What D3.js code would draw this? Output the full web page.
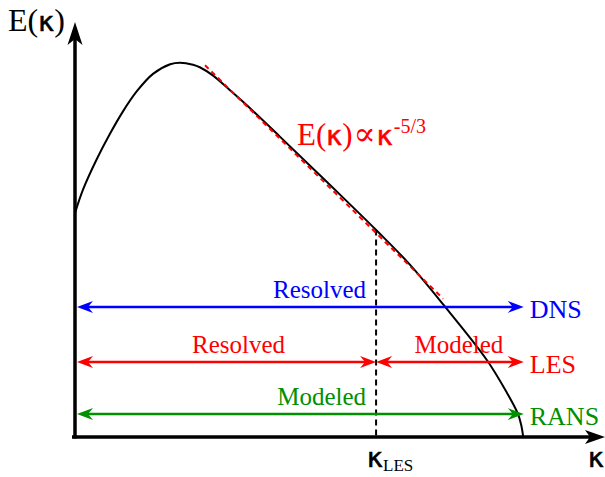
<!DOCTYPE html>
<html>
<head>
<meta charset="utf-8">
<script src="https://cdn.jsdelivr.net/npm/d3@7"></script>
<style>
  html, body { margin: 0; padding: 0; background: #fff; }
  svg { display: block; }
</style>
</head>
<body>
<svg id="chart" width="605" height="477"></svg>
<script>
// Energy spectrum E(κ), sampled along its shape (arbitrary units)
const kappa  = [0, 0.15, 0.42, 0.67, 0.92, 1.19, 1.50, 1.83, 2.02, 2.27, 2.40, 2.65, 2.98, 3.31, 3.94, 4.58, 5.23, 5.81, 6.44, 7.08, 7.92, 8.31, 8.52, 8.58, 8.62];
const energy = [4.39, 4.84, 5.45, 5.94, 6.38, 6.78, 7.12, 7.31, 7.34, 7.30, 7.25, 7.09, 6.80, 6.50, 5.89, 5.26, 4.62, 4.04, 3.38, 2.60, 1.51, 0.86, 0.45, 0.24, 0];

// Inertial-range guide, E ∝ κ^(-5/3)
const slopeKappa  = [2.50, 7.08];
const slopeEnergy = [7.29, 2.71];

// LES filter cut-off and the end of the spectrum
const kLES = 5.79;
const kLESEnergy = 4.07;
const kMax = 8.63;

// Simulation approaches and the height of their range arrows
const methods      = ["DNS", "LES", "RANS"];
const methodLevels = [2.55, 1.47, 0.45];

// Wavenumber ranges per approach: [method, from, to, label]
const spans = [
  ["DNS",  0,    kMax, "Resolved"],
  ["LES",  0,    kLES, "Resolved"],
  ["LES",  kLES, kMax, "Modeled"],
  ["RANS", 0,    kMax, "Modeled"]
];

const methodColor = { DNS: "#0000ff", LES: "#ff0000", RANS: "#009000" };

const W = 605, H = 477;
const x = d3.scaleLinear().domain([0, 10]).range([75, 595]);
const y = d3.scaleLinear().domain([0, 8]).range([437, 29]);

const svg = d3.select("#chart");
svg.append("rect").attr("width", W).attr("height", H).attr("fill", "#fff");

const serif = "'Liberation Serif', 'Times New Roman', serif";
const sans  = "'DejaVu Sans', sans-serif";

// Stealth-style arrowhead: tip at (tx, ty), pointing along (dx, dy)
function arrowHead(tx, ty, dx, dy, len, half, notch) {
  const px = -dy, py = dx;
  const bx = tx - dx * len, by = ty - dy * len;
  const nx = tx - dx * notch, ny = ty - dy * notch;
  return `M${tx},${ty} L${bx + px * half},${by + py * half} L${nx},${ny} L${bx - px * half},${by - py * half} Z`;
}

// Greek kappa set in a slightly heavier sans face, as in every label
function kappaSpan(sel, size, color) {
  return sel.append("tspan")
    .attr("font-family", sans)
    .attr("stroke", color).attr("stroke-width", 0.6)
    .attr("font-size", size).text("κ");
}

// Axes
const axisG = svg.append("g");
const yTip = 22, xTip = W;
axisG.append("line")
  .attr("x1", x(0)).attr("x2", x(0))
  .attr("y1", y(0) + 1.5).attr("y2", yTip + 14)
  .attr("stroke", "#000").attr("stroke-width", 3.5);
axisG.append("path")
  .attr("d", arrowHead(x(0), yTip, 0, -1, 23, 7.5, 17))
  .attr("fill", "#000");
axisG.append("line")
  .attr("x1", x(0) - 3).attr("x2", xTip - 14)
  .attr("y1", y(0)).attr("y2", y(0))
  .attr("stroke", "#000").attr("stroke-width", 3.5);
axisG.append("path")
  .attr("d", arrowHead(xTip, y(0), 1, 0, 20, 7, 15))
  .attr("fill", "#000");

// Axis titles
const yTitle = svg.append("text")
  .attr("x", 8).attr("y", 31)
  .attr("font-family", serif).attr("font-size", 32).attr("fill", "#000");
yTitle.append("tspan").text("E(");
kappaSpan(yTitle, 27, "#000");
yTitle.append("tspan").text(")");

const xTitle = svg.append("text")
  .attr("x", 588).attr("y", 467).attr("fill", "#000");
kappaSpan(xTitle, 27, "#000");

// Cut-off wavenumber on the κ axis
svg.append("line")
  .attr("x1", x(kLES)).attr("x2", x(kLES))
  .attr("y1", y(kLESEnergy)).attr("y2", y(0))
  .attr("stroke", "#000").attr("stroke-width", 2)
  .attr("stroke-dasharray", "6,4");

const kl = svg.append("text")
  .attr("x", x(kLES) - 9).attr("y", 467)
  .attr("font-family", serif).attr("fill", "#000");
kappaSpan(kl, 27, "#000");
kl.append("tspan").attr("font-size", 17).attr("dy", 4).text("LES");

// Energy spectrum
const pts = kappa.map((k, i) => [k, energy[i]]);
svg.append("path")
  .datum(pts)
  .attr("d", d3.line().x(d => x(d[0])).y(d => y(d[1])).curve(d3.curveCatmullRom.alpha(0.5)))
  .attr("fill", "none").attr("stroke", "#000").attr("stroke-width", 2);

// -5/3 guide
svg.append("line")
  .attr("x1", x(slopeKappa[0])).attr("y1", y(slopeEnergy[0]))
  .attr("x2", x(slopeKappa[1])).attr("y2", y(slopeEnergy[1]))
  .attr("stroke", "#ff0000").attr("stroke-width", 2)
  .attr("stroke-dasharray", "5,4");

const law = svg.append("text")
  .attr("x", 297).attr("y", 145)
  .attr("font-family", serif).attr("font-size", 31).attr("fill", "#ff0000");
law.append("tspan").text("E(");
kappaSpan(law, 27, "#ff0000");
law.append("tspan").text(")");
law.append("tspan").attr("font-family", "'DejaVu Serif', serif").attr("font-size", 33).attr("dx", 1).text("∝");
kappaSpan(law, 27, "#ff0000").attr("dx", 1);
law.append("tspan").attr("font-size", 20).attr("dy", -12).attr("dx", 1).text("-5/3");

// Range arrows for each approach
const level = m => y(methodLevels[methods.indexOf(m)]);
const pad = 2;
spans.forEach(([m, k0, k1, label]) => {
  const c = methodColor[m];
  const yy = level(m);
  const x0 = x(k0) + (k0 === 0 ? pad : 0);
  const x1 = x(k1);
  const g = svg.append("g");
  g.append("line")
    .attr("x1", x0 + 10).attr("x2", x1 - 10)
    .attr("y1", yy).attr("y2", yy)
    .attr("stroke", c).attr("stroke-width", 2.5);
  g.append("path").attr("d", arrowHead(x0, yy, -1, 0, 16, 6, 11)).attr("fill", c);
  g.append("path").attr("d", arrowHead(x1, yy, 1, 0, 16, 6, 11)).attr("fill", c);

  // label placement along the range
  let lx, anchor;
  if (k0 === 0 && k1 === kMax) { lx = x(kLES) - 10; anchor = "end"; }
  else if (k0 === 0) { lx = x(kLES / 2) + 13; anchor = "middle"; }
  else { lx = (x(k0) + x(k1)) / 2 + 9; anchor = "middle"; }
  g.append("text")
    .attr("x", lx).attr("y", yy - 9)
    .attr("text-anchor", anchor)
    .attr("font-family", serif).attr("font-size", 25).attr("fill", c)
    .text(label);
});

methods.forEach((m, i) => {
  svg.append("text")
    .attr("x", x(kMax) + 6).attr("y", y(methodLevels[i]) + 11)
    .attr("font-family", serif).attr("font-size", 26)
    .attr("fill", methodColor[m])
    .text(m);
});
</script>
</body>
</html>
